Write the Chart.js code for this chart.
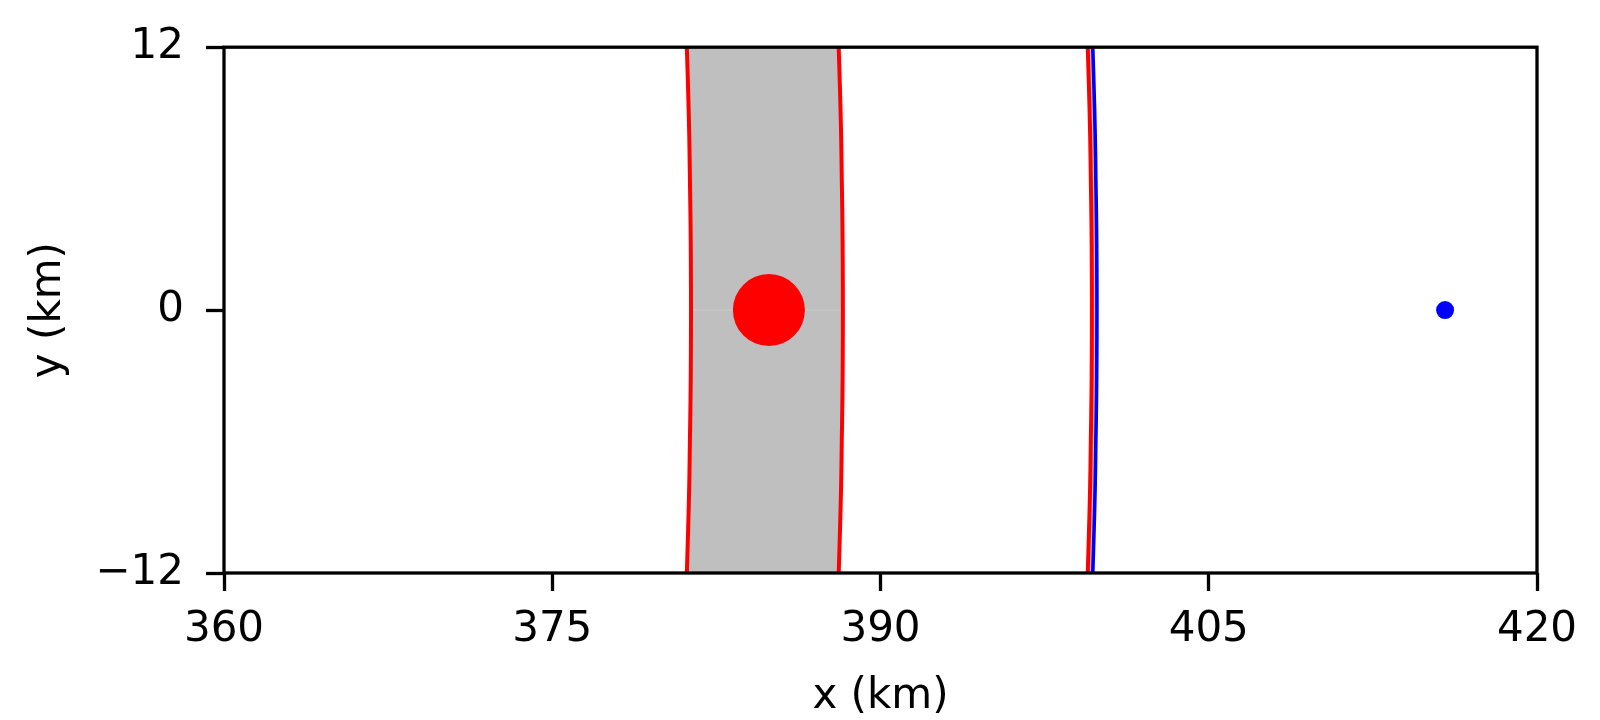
<!DOCTYPE html>
<html>
<head>
<meta charset="utf-8">
<script src="https://cdn.jsdelivr.net/npm/chart.js@4"></script>
<style>
  html, body { margin: 0; padding: 0; background: #fff; }
  canvas { display: block; }
</style>
</head>
<body>
<canvas id="frontChart" width="1600" height="720"></canvas>
<script>
// values
const yLevels = [-12, -10, -8, -6, -4, -2, 0, 2, 4, 6, 8, 10, 12];
const bandLeftX = [381.15, 381.21, 381.26, 381.29, 381.32, 381.335, 381.34, 381.335, 381.32, 381.29, 381.26, 381.21, 381.15];
const bandRightX = [388.09, 388.15, 388.20, 388.23, 388.26, 388.275, 388.28, 388.275, 388.26, 388.23, 388.20, 388.15, 388.09];
const frontRedX = [399.47, 399.53, 399.58, 399.61, 399.64, 399.655, 399.66, 399.655, 399.64, 399.61, 399.58, 399.53, 399.47];
const frontBlueX = [399.70, 399.76, 399.81, 399.84, 399.87, 399.885, 399.89, 399.885, 399.87, 399.84, 399.81, 399.76, 399.70];
const redCentre = { x: 384.9, y: 0 };
const blueCentre = { x: 415.8, y: 0 };
const xTicks = [360, 375, 390, 405, 420];
const yTicks = [-12, 0, 12];

const FONT = 'DejaVu Sans';
const GREY = '#bfbfbf';

function curve(xs) {
    return xs.map((x, i) => ({ x: x, y: yLevels[i] }));
}

// closed outline: down one edge, back up the other
function band(leftXs, rightXs) {
    const pts = curve(leftXs);
    const back = curve(rightXs).reverse();
    return pts.concat(back);
}

const framePlugin = {
    id: 'frame',
    afterDatasetsDraw(chart) {
        const { ctx, chartArea } = chart;
        ctx.save();
        ctx.strokeStyle = '#000';
        ctx.lineWidth = 3.3;
        ctx.strokeRect(chartArea.left, chartArea.top,
            chartArea.right - chartArea.left, chartArea.bottom - chartArea.top);
        ctx.restore();
    }
};

Chart.defaults.font.family = FONT;
Chart.defaults.color = '#000';

function edgeLine(label, xs, colour, width, order) {
    return {
        label: label,
        data: curve(xs),
        showLine: true,
        tension: 0.4,
        borderColor: colour,
        borderWidth: width,
        pointRadius: 0,
        order: order
    };
}

const ctx = document.getElementById('frontChart').getContext('2d');
new Chart(ctx, {
    type: 'scatter',
    data: {
        datasets: [
            {
                label: 'band',
                data: band(bandLeftX, bandRightX),
                showLine: true,
                fill: 'shape',
                backgroundColor: GREY,
                borderWidth: 0,
                pointRadius: 0,
                order: 10
            },
            {
                label: 'front gap',
                data: band(frontRedX, frontBlueX),
                showLine: true,
                fill: 'shape',
                backgroundColor: GREY,
                borderWidth: 0,
                pointRadius: 0,
                order: 9
            },
            {
                label: 'seam',
                data: [{ x: bandLeftX[6], y: 0 }, { x: bandRightX[6], y: 0 },
                       { x: NaN, y: NaN },
                       { x: frontRedX[6], y: 0 }, { x: frontBlueX[6], y: 0 }],
                showLine: true,
                spanGaps: false,
                borderColor: '#c9c9c9',
                borderWidth: 1.2,
                pointRadius: 0,
                order: 8
            },
            edgeLine('band left', bandLeftX, '#ff0000', 4, 5),
            edgeLine('band right', bandRightX, '#ff0000', 4, 5),
            edgeLine('front red', frontRedX, '#ff0000', 4, 5),
            edgeLine('front blue', frontBlueX, '#0000ff', 3.6, 4),
            {
                label: 'red centre',
                data: [redCentre],
                pointRadius: 36,
                pointBackgroundColor: '#ff0000',
                pointBorderWidth: 0,
                order: 2
            },
            {
                label: 'blue centre',
                data: [blueCentre],
                pointRadius: 9,
                pointBackgroundColor: '#0000ff',
                pointBorderWidth: 0,
                order: 1
            }
        ]
    },
    options: {
        responsive: false,
        animation: false,
        devicePixelRatio: 1,
        layout: {
            padding: { top: 46, right: 63, left: 0, bottom: 0 }
        },
        plugins: {
            legend: { display: false },
            tooltip: { enabled: false }
        },
        scales: {
            x: {
                type: 'linear',
                min: 360,
                max: 420,
                afterBuildTicks: (scale) => {
                    scale.ticks = xTicks.map(v => ({ value: v }));
                },
                afterFit: (scale) => { scale.height = 147; },
                ticks: {
                    font: { size: 42 },
                    padding: 14,
                    maxRotation: 0,
                    autoSkip: false
                },
                grid: {
                    drawOnChartArea: false,
                    drawTicks: true,
                    tickLength: 18,
                    tickWidth: 3.3,
                    tickColor: '#000'
                },
                border: { display: false },
                title: {
                    display: true,
                    text: 'x (km)',
                    font: { size: 42, lineHeight: 1 },
                    padding: { top: 0, bottom: 2 }
                }
            },
            y: {
                type: 'linear',
                min: -12,
                max: 12,
                afterBuildTicks: (scale) => {
                    scale.ticks = yTicks.map(v => ({ value: v }));
                },
                afterFit: (scale) => { scale.width = 224; },
                ticks: {
                    font: { size: 42 },
                    padding: 22,
                    autoSkip: false,
                    callback: (v) => String(v).replace('-', '\u2212')
                },
                grid: {
                    drawOnChartArea: false,
                    drawTicks: true,
                    tickLength: 18,
                    tickWidth: 3.3,
                    tickColor: '#000'
                },
                border: { display: false },
                title: {
                    display: true,
                    text: 'y (km)',
                    font: { size: 42, lineHeight: 1 },
                    padding: { top: 28, bottom: 0 }
                }
            }
        }
    },
    plugins: [framePlugin]
});
</script>
</body>
</html>
